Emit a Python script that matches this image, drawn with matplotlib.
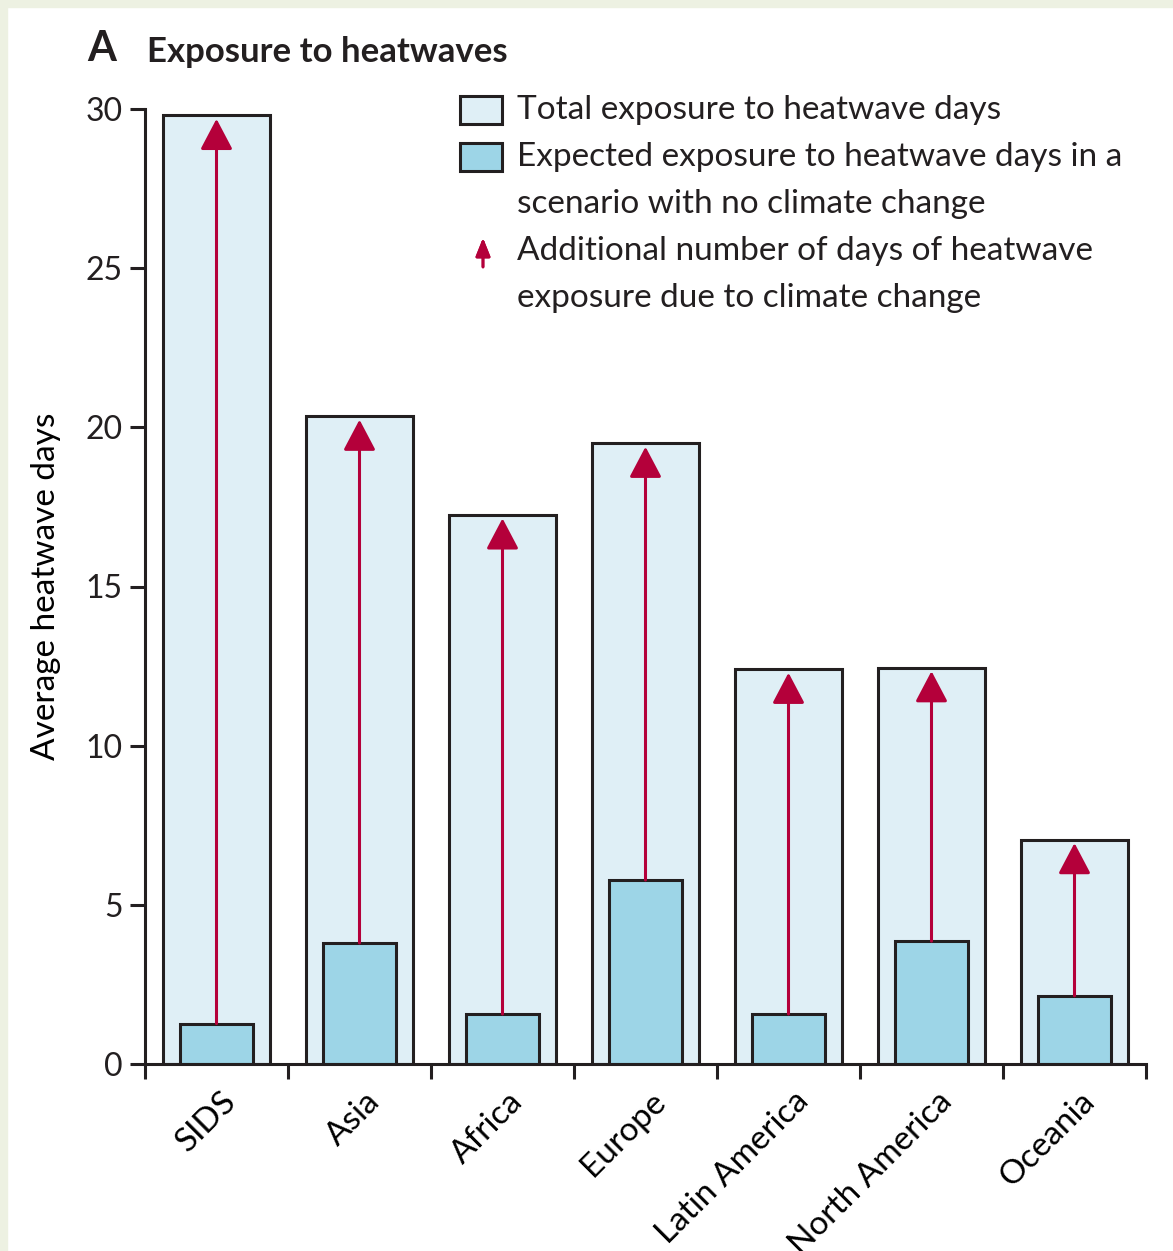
import matplotlib.pyplot as plt
from matplotlib.patches import Rectangle
from matplotlib.transforms import ScaledTranslation

regions = ["SIDS", "Asia", "Africa", "Europe", "Latin America", "North America", "Oceania"]
total_days = [29.8, 20.35, 17.25, 19.5, 12.4, 12.45, 7.05]
expected_days = [1.27, 3.8, 1.57, 5.78, 1.57, 3.86, 2.14]
yticks = [0, 5, 10, 15, 20, 25, 30]

dark = "#231f20"
light_blue = "#dfeff6"
mid_blue = "#9dd5e7"
crimson = "#b4003a"

plt.rcParams["font.family"] = ["Lato", "DejaVu Sans"]
plt.rcParams["text.color"] = dark

fig = plt.figure(figsize=(11.73, 12.51), dpi=100)
W, H = 1173, 1251

# light page strips on the top and left edge
fig.patches.append(Rectangle((0, 1 - 7 / H), 1, 7 / H, transform=fig.transFigure, color="#edf1e2", zorder=0))
fig.patches.append(Rectangle((0, 0), 7 / W, 1, transform=fig.transFigure, color="#edf1e2", zorder=0))

ax = fig.add_axes([145 / W, 1 - 1064 / H, (1146 - 145) / W, (1064 - 109) / H])
ax.set_facecolor("none")

x = [i + 0.5 for i in range(len(regions))]
ax.bar(x, total_days, width=0.755, color=light_blue, edgecolor=dark, linewidth=2.2, zorder=1)
ax.bar(x, expected_days, width=0.51, color=mid_blue, edgecolor=dark, linewidth=2.2, zorder=2)

for xi, lo, hi in zip(x, expected_days, total_days):
    ax.annotate("", xy=(xi, hi), xytext=(xi, lo),
                arrowprops=dict(arrowstyle="-|>,head_length=0.95,head_width=0.5",
                                mutation_scale=20, lw=2.2, color=crimson,
                                shrinkA=0, shrinkB=2.5),
                zorder=3)

ax.set_xlim(0, len(regions))
ax.set_ylim(0, 30)
ax.set_yticks(yticks)
ax.set_yticklabels([str(v) for v in yticks], fontsize=23)
ax.set_xticks(range(len(regions) + 1))
ax.set_xticklabels([])
ax.set_xticks(x, minor=True)
ax.set_xticklabels(regions, minor=True, rotation=45, ha="right", rotation_mode="anchor", fontsize=24)
ax.tick_params(axis="x", which="minor", length=0, pad=16)
ax.tick_params(axis="both", which="major", length=11, width=2.2, color=dark, labelcolor=dark)
ax.tick_params(axis="y", pad=5)
for lab in ax.get_xticklabels(minor=True):
    lab.set_transform(lab.get_transform() + ScaledTranslation(0.05, 0, fig.dpi_scale_trans))

for side in ["top", "right"]:
    ax.spines[side].set_visible(False)
for side in ["left", "bottom"]:
    ax.spines[side].set_linewidth(2.2)
    ax.spines[side].set_color(dark)

ax.set_ylabel("Average heatwave days", fontsize=24, labelpad=18)

# title
fig.text(87 / W, 1 - 49 / H, "A", fontsize=30, fontweight="bold", va="center", ha="left")
fig.text(147 / W, 1 - 52 / H, "Exposure to heatwaves", fontsize=25, fontweight="bold", va="center", ha="left")

# legend, drawn by hand so the markers sit on the first line
fs = 24
tx = 517 / W
fig.patches.append(Rectangle((460 / W, 1 - 124 / H), 42 / W, 28 / H, transform=fig.transFigure,
                             facecolor=light_blue, edgecolor=dark, linewidth=2.2))
fig.patches.append(Rectangle((460 / W, 1 - 171 / H), 42 / W, 28 / H, transform=fig.transFigure,
                             facecolor=mid_blue, edgecolor=dark, linewidth=2.2))
fig.text(tx, 1 - 110 / H, "Total exposure to heatwave days", fontsize=fs, va="center")
fig.text(tx, 1 - 157 / H, "Expected exposure to heatwave days in a", fontsize=fs, va="center")
fig.text(tx, 1 - 204 / H, "scenario with no climate change", fontsize=fs, va="center")
fig.text(tx, 1 - 251 / H, "Additional number of days of heatwave", fontsize=fs, va="center")
fig.text(tx, 1 - 298 / H, "exposure due to climate change", fontsize=fs, va="center")
fig.add_artist(plt.annotate("", xy=(483 / W, 1 - 238 / H), xytext=(483 / W, 1 - 267 / H),
                            xycoords="figure fraction", textcoords="figure fraction",
                            arrowprops=dict(arrowstyle="-|>,head_length=0.55,head_width=0.22",
                                            mutation_scale=20, lw=2.0, color=crimson,
                                            shrinkA=0, shrinkB=0)))

fig.savefig("out.png", dpi=100)
